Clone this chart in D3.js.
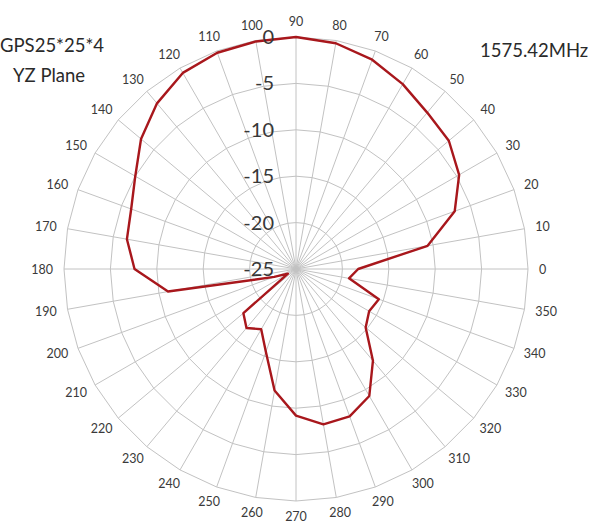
<!DOCTYPE html>
<html lang="en">
<head>
    <meta charset="UTF-8">
    <title>GPS25*25*4 YZ Plane</title>
    <script src="https://d3js.org/d3.v7.min.js"></script>
    <style>
        body { margin: 0; background: #fff; }
        svg { display: block; }
        .grid { fill: none; stroke: #c2c2c2; stroke-width: 1; }
        .rlabel { font-family: Lato, "Open Sans", sans-serif; font-size: 20px; fill: #383838; }
        .alabel { font-family: Lato, "Open Sans", sans-serif; font-size: 12.5px; fill: #3a3a3a; }
        .title { font-family: Lato, "Open Sans", sans-serif; font-size: 18.5px; fill: #2a2a2a; }
        .trace { fill: none; stroke: #a8171c; stroke-width: 2.4; stroke-linejoin: round; }
    </style>
</head>
<body>
    <svg width="600" height="526"></svg>
    <script>
        // angles in degrees, gain in dB
        const angles = d3.range(0, 360, 10);
        const gain = [
            -18.3, -10.6, -6.8, -4.7, -3.5, -3.0, -2.0, -1.0, -0.3,
            0.0, -0.1, -0.2, -0.6, -1.7, -3.2, -5.0, -6.1, -6.5,
            -7.6, -11.0, -22.5, -24.0, -17.6, -16.7, -17.5, -15.5, -11.7,
            -9.2, -8.0, -8.1, -9.2, -12.1, -15.2, -15.9, -15.5, -19.2
        ];
        const ringTicks = [-25, -20, -15, -10, -5, 0];

        const svg = d3.select("svg"),
              cx = 296, cy = 269, R = 232,
              g = svg.append("g").attr("transform", `translate(${cx},${cy})`);

        const r = d3.scaleLinear().domain([-25, 0]).range([0, R]);
        // degrees (0 = east, counter-clockwise) -> d3 radial angle (0 = north, clockwise)
        const a = d3.scaleLinear().domain([0, 360]).range([Math.PI / 2, Math.PI / 2 - 2 * Math.PI]);

        // rings (polygons through every spoke, like the spreadsheet radar grid)
        const ring = d3.lineRadial().curve(d3.curveLinearClosed);
        g.selectAll(".ring")
         .data(ringTicks.filter(t => t > -25))
         .enter().append("path")
         .attr("class", "grid")
         .attr("d", t => ring(angles.map(d => [a(d), r(t)])));

        // spokes
        g.selectAll(".spoke")
         .data(angles)
         .enter().append("line")
         .attr("class", "grid")
         .attr("x1", 0).attr("y1", 0)
         .attr("x2", d => r(0) * Math.sin(a(d)))
         .attr("y2", d => -r(0) * Math.cos(a(d)));

        // angle labels
        g.selectAll(".alabel")
         .data(angles)
         .enter().append("text")
         .attr("class", "alabel")
         .attr("text-anchor", "middle")
         .text(d => d)
         .each(function(d) {
             const w = this.getComputedTextLength(), h = 9;
             const sx = Math.sin(a(d)), sy = -Math.cos(a(d));
             const rr = r(0) + 11;
             d3.select(this)
               .attr("x", rr * sx + sx * w / 2)
               .attr("y", rr * sy + sy * h / 2 + h / 2);
         });

        // trace
        const line = d3.lineRadial()
            .angle((d, i) => a(angles[i]))
            .radius(d => r(d))
            .curve(d3.curveLinearClosed);
        g.append("path")
         .datum(gain)
         .attr("class", "trace")
         .attr("d", line);

        // radial value labels along the vertical spoke
        g.selectAll(".rlabel")
         .data(ringTicks)
         .enter().append("text")
         .attr("class", "rlabel")
         .attr("text-anchor", "end")
         .attr("x", -22)
         .attr("y", d => -r(d))
         .attr("dy", "0.35em")
         .text(d => d);

        svg.append("text").attr("class", "title").attr("x", 0).attr("y", 52).text("GPS25*25*4");
        svg.append("text").attr("class", "title").attr("x", 13).attr("y", 82).text("YZ Plane");
        svg.append("text").attr("class", "title").attr("x", 480).attr("y", 57).text("1575.42MHz");
    </script>
</body>
</html>
